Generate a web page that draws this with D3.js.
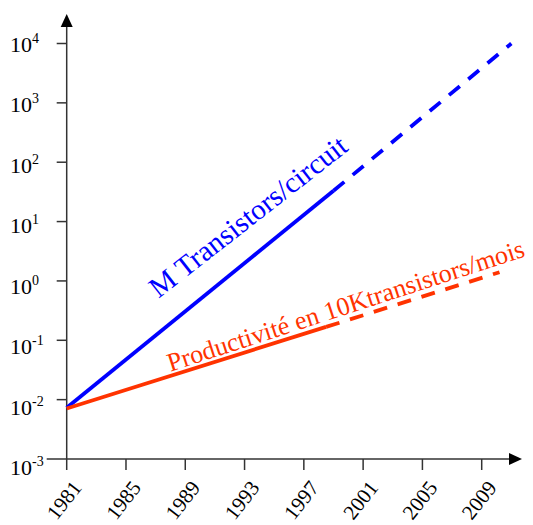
<!DOCTYPE html>
<html>
<head>
<meta charset="utf-8">
<script src="https://cdn.jsdelivr.net/npm/d3@7/dist/d3.min.js"></script>
<style>
  body { margin: 0; background: #fff; }
  svg { display: block; }
</style>
</head>
<body>
<svg id="chart" width="533" height="525"></svg>
<script>
// tick labels
const yearTicks = [1981, 1985, 1989, 1993, 1997, 2001, 2005, 2009];
const decadeExps = [-3, -2, -1, 0, 1, 2, 3, 4];

// M transistors / circuit (solid = measured, dashed = projection)
const transSolidYears  = [1981, 1999];
const transSolidValues = [0.0073, 33];
const transDashYears   = [1999, 2011];
const transDashValues  = [33, 10000];

// productivity in 10K transistors / month
const prodSolidYears  = [1981, 1998.5];
const prodSolidValues = [0.0071, 0.168];
const prodDashYears   = [1998.5, 2010.2];
const prodDashValues  = [0.168, 1.4];

// series labels: text, anchor year, anchor value, angle
const labelTexts  = ["M Transistors/circuit", "Productivité en 10Ktransistors/mois"];
const labelYears  = [1987.2, 1988.0];
const labelValues = [0.5, 0.0296];
const labelAngles = [-38, -18];
const labelSizes  = [29, 26];
const labelColors = ["#0000ff", "#ff3300"];

const FONT = 'Liberation Serif';

const svg = d3.select('svg#chart');

const x = d3.scaleLinear().domain([1981, 2009]).range([66.7, 481.7]);
const y = d3.scaleLog().domain([1e-3, 1e4]).range([459, 43.5]);
// the exponent labels sit on a slightly wider grid than the ticks
const yLab = d3.scaleLog().domain([1e-3, 1e4]).range([475, 51.5]);

const axisColor = '#333';

/******** axes ********/
// x axis line + arrow
svg.append('line')
  .attr('x1', x(1981) - 20).attr('x2', 512)
  .attr('y1', y(1e-3)).attr('y2', y(1e-3))
  .attr('stroke', axisColor).attr('stroke-width', 1.5);
svg.append('path')
  .attr('d', d3.line()([[509, y(1e-3) - 6], [522, y(1e-3)], [509, y(1e-3) + 6]]) + 'Z')
  .attr('fill', '#000');

// y axis line + arrow
svg.append('line')
  .attr('x1', x(1981)).attr('x2', x(1981))
  .attr('y1', y(1e-3)).attr('y2', 24)
  .attr('stroke', axisColor).attr('stroke-width', 1.5);
svg.append('path')
  .attr('d', d3.line()([[x(1981) - 6, 27], [x(1981), 14], [x(1981) + 6, 27]]) + 'Z')
  .attr('fill', '#000');

// x ticks
svg.selectAll('line.xtick')
  .data(yearTicks)
  .enter()
  .append('line')
  .attr('class', 'xtick')
  .attr('x1', d => x(d)).attr('x2', d => x(d))
  .attr('y1', y(1e-3)).attr('y2', y(1e-3) + 11)
  .attr('stroke', axisColor).attr('stroke-width', 1.5);

svg.selectAll('text.xlab')
  .data(yearTicks)
  .enter()
  .append('text')
  .attr('class', 'xlab')
  .attr('font-family', FONT)
  .attr('text-anchor', 'end')
  .attr('font-size', 21)
  .attr('fill', '#000')
  .attr('transform', d => `translate(${x(d) + 16},${y(1e-3) + 29}) rotate(-52)`)
  .text(d => d);

// y ticks (10^-3 is the x axis itself)
svg.selectAll('line.ytick')
  .data(decadeExps.filter(e => e > -3))
  .enter()
  .append('line')
  .attr('class', 'ytick')
  .attr('x1', x(1981) - 10).attr('x2', x(1981))
  .attr('y1', e => y(Math.pow(10, e))).attr('y2', e => y(Math.pow(10, e)))
  .attr('stroke', axisColor).attr('stroke-width', 1.5);

const ylab = svg.selectAll('text.ylab')
  .data(decadeExps)
  .enter()
  .append('text')
  .attr('class', 'ylab')
  .attr('font-family', FONT)
  .attr('x', 10)
  .attr('y', e => yLab(Math.pow(10, e)))
  .attr('font-size', 22)
  .attr('fill', '#000');
ylab.append('tspan').text('10');
ylab.append('tspan')
  .attr('dy', -9)
  .attr('font-size', 14)
  .text(e => e < 0 ? '-' + (-e) : e);

/******** series ********/
const line = d3.line().x(d => x(d[0])).y(d => y(d[1]));

function drawSeries(yrs, vals, color, dashed) {
  svg.append('path')
    .datum(d3.zip(yrs, vals))
    .attr('d', line)
    .attr('fill', 'none')
    .attr('stroke', color)
    .attr('stroke-width', 3.8)
    .attr('stroke-dasharray', dashed ? '14,11' : null);
}

drawSeries(transSolidYears, transSolidValues, '#0000ff', false);
drawSeries(transDashYears, transDashValues, '#0000ff', true);
drawSeries(prodSolidYears, prodSolidValues, '#ff3300', false);
drawSeries(prodDashYears, prodDashValues, '#ff3300', true);

/******** labels ********/
svg.selectAll('text.series')
  .data(labelTexts)
  .enter()
  .append('text')
  .attr('class', 'series')
  .attr('font-family', FONT)
  .attr('font-size', (d, i) => labelSizes[i])
  .attr('fill', (d, i) => labelColors[i])
  .attr('transform', (d, i) =>
    `translate(${x(labelYears[i])},${y(labelValues[i])}) rotate(${labelAngles[i]})`)
  .text(d => d);
</script>
</body>
</html>
